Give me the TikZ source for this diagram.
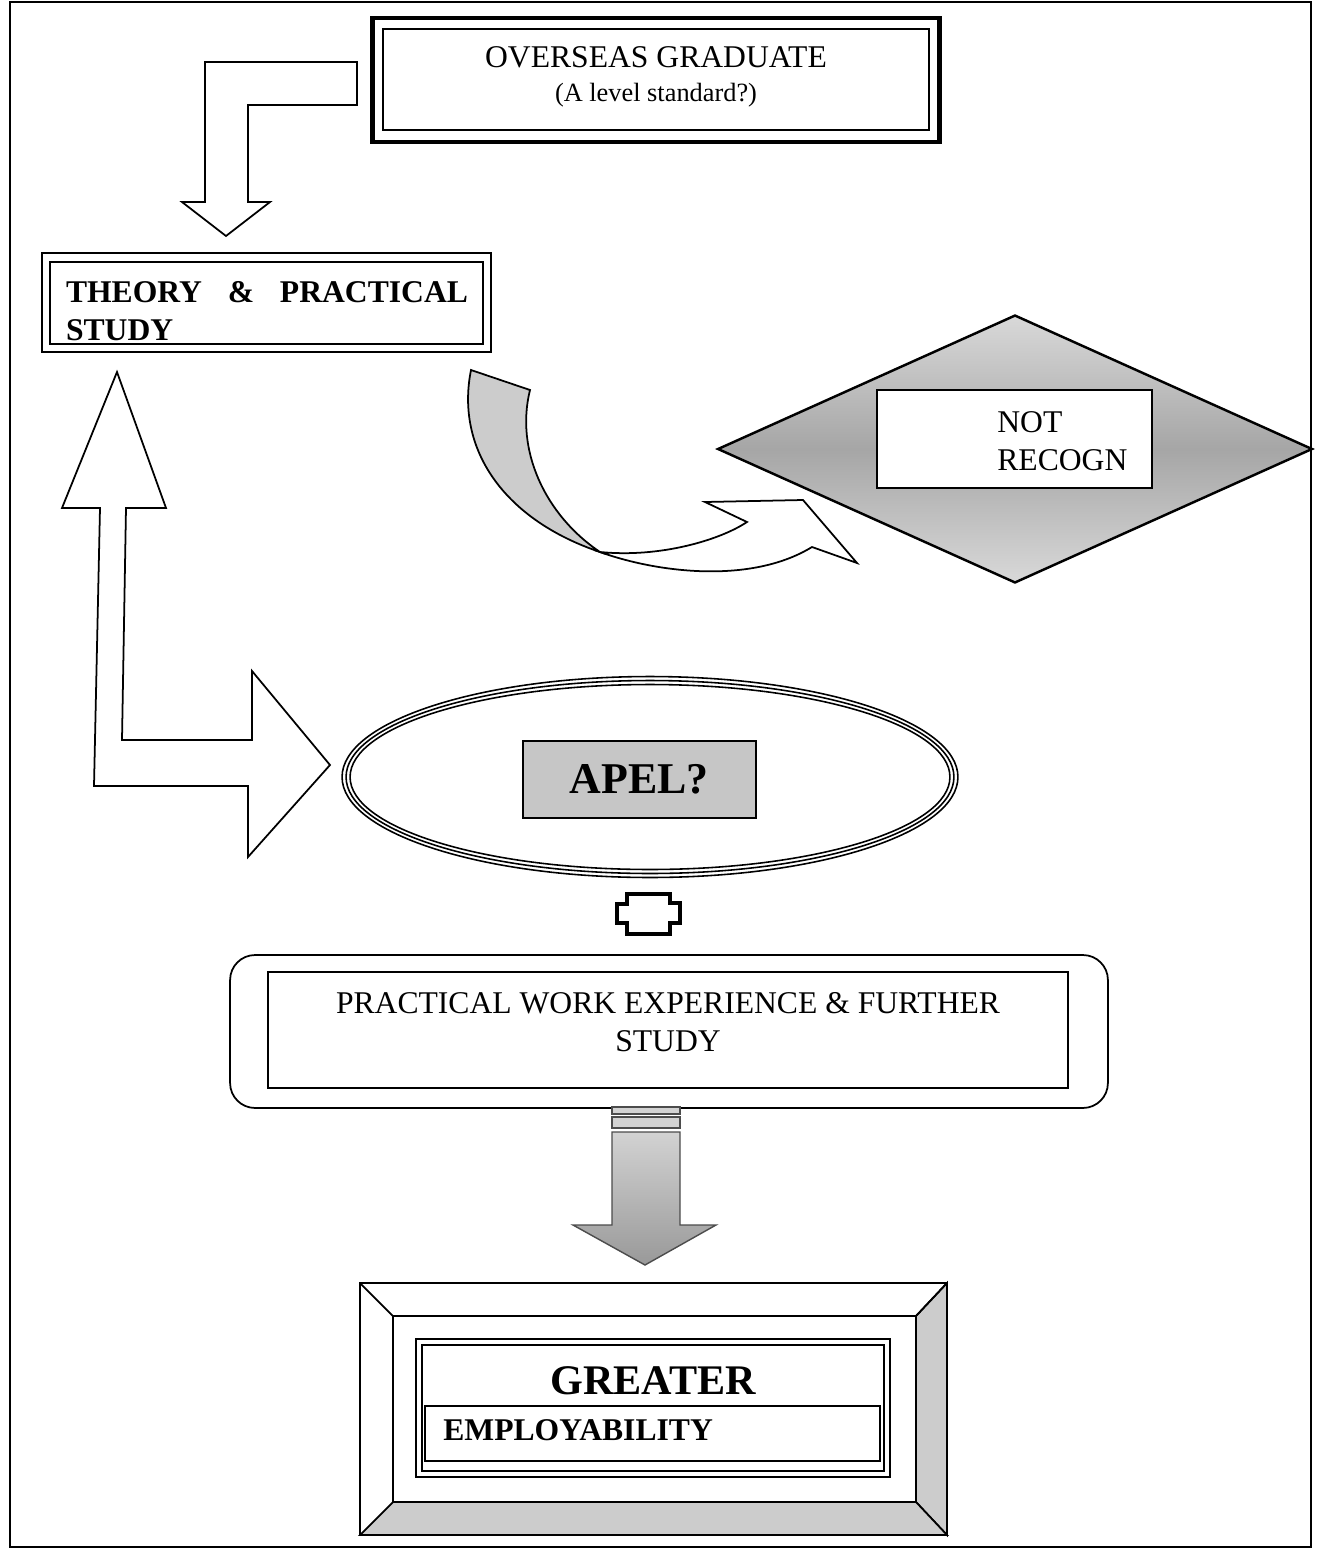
\documentclass[tikz,border=0pt]{standalone}
\usepackage{fontspec}
\setmainfont{Liberation Serif}
\usepackage{xcolor}
\usetikzlibrary{shapes.geometric}

\begin{document}
\begin{tikzpicture}[x=0.02cm,y=-0.02cm]
        \tikzstyle{every node}+=[inner sep=0pt]
        \tikzstyle{box}=[draw, rectangle, line width=1pt]
        \tikzstyle{hollow}=[draw, fill=white, line width=1pt, line join=miter]
        \tikzstyle{txt}=[font=\fontsize{18}{21.5}\selectfont]
        \tikzstyle{btxt}=[font=\fontsize{18}{21.5}\selectfont\bfseries]
        \useasboundingbox (0,0) rectangle (1323,1549);
        \draw [black, line width=1.4pt] (10,2) rectangle (1311,1547);
        % top box
        \node [box, line width=2.8pt, minimum width=11.36cm, minimum height=2.48cm] (grad) at (656,80) {};
        \draw [black, line width=1pt] (383,29) rectangle (929,130);
        \node [txt] (gradtxt) at (656,57) {OVERSEAS GRADUATE};
        \node [font=\fontsize{15}{18}\selectfont] (gradsub) at (656,95) {(A level standard?)};
        \draw [hollow] (205,62) -- (357,62) -- (357,105) -- (248,105) -- (248,202) -- (270,202) -- (226,236) -- (182,202) -- (205,202) -- cycle;
        \node [box, minimum width=8.98cm, minimum height=1.98cm] (theory) at (266.5,302.5) {};
        \draw [black, line width=1pt] (50,262) rectangle (483,344);
        \node [btxt, text width=8.04cm, align=left] (theorytxt) at (267,311) {\makebox[8.04cm][l]{THEORY\hfill\&\hfill PRACTICAL}\\STUDY};
        \draw [hollow] (117,372) -- (166,508) -- (126,508) -- (122,740) -- (252,740) -- (252,671) -- (330,765) -- (248,857) -- (248,786) -- (94,786) -- (100,508) -- (62,508) -- cycle;
        % curved arrow
        \draw [black, line width=1pt, fill=gray!40] (471,370) .. controls (455,450) and (505,520) .. (600,552) .. controls (545,515) and (515,450) .. (530,390) -- cycle;
        \draw [hollow] (600,552) .. controls (655,572) and (750,585) .. (812,547) -- (857,563) -- (803,500) -- (705,502) -- (747,522) .. controls (720,540) and (660,558) .. (600,552) -- cycle;
        \node [diamond, draw, line width=1.4pt, minimum width=11.9cm, minimum height=5.36cm, top color=gray!30, bottom color=gray!30, middle color=gray!70] (notrec) at (1015,449) {};
        \node [box, fill=white, minimum width=5.5cm, minimum height=1.96cm] (recbox) at (1014.5,439) {};
        \node [txt, align=left, anchor=west] (rectxt) at (997,441) {NOT\\RECOGN};
        % apel
        \node [ellipse, draw, line width=0.9pt, minimum width=12.32cm, minimum height=4.02cm] (apel) at (650,777) {};
        \node [ellipse, draw, line width=0.9pt, minimum width=12.16cm, minimum height=3.86cm] (apelmid) at (apel) {};
        \node [ellipse, draw, line width=0.9pt, minimum width=12cm, minimum height=3.7cm] (apelin) at (apel) {};
        \node [box, line width=0.8pt, fill=gray!45, minimum width=4.66cm, minimum height=1.54cm] (apelbox) at (639.5,779.5) {};
        \node [font=\fontsize{25}{30}\selectfont\bfseries] (apeltxt) at (639,779) {APEL?};
        \draw [black, line width=2.2pt] (627,894) -- (670,894) -- (670,903) -- (680,903) -- (680,923) -- (670,923) -- (670,934) -- (627,934) -- (627,923) -- (617,923) -- (617,904) -- (627,904) -- cycle;
        % work box
        \node [box, rounded corners=0.5cm, minimum width=17.56cm, minimum height=3.06cm] (work) at (669,1031.5) {};
        \draw [black, line width=1pt] (268,972) rectangle (1068,1088);
        \node [txt, align=center] (worktxt) at (668,1022) {PRACTICAL WORK EXPERIENCE \& FURTHER\\STUDY};
        \draw [gray!60!black, line width=0.6pt, fill=gray!35] (612,1107) rectangle (680,1114);
        \draw [gray!60!black, line width=0.6pt, fill=gray!35] (612,1117) rectangle (680,1128);
        \draw [gray!60!black, line width=0.8pt, top color=gray!35, bottom color=gray!80] (612,1132) -- (680,1132) -- (680,1225) -- (716,1225) -- (645,1265) -- (573,1225) -- (612,1225) -- cycle;
        % bottom box
        \node [box, minimum width=11.74cm, minimum height=5.04cm] (employ) at (653.5,1409) {};
        \draw [black, line width=1pt, fill=gray!40] (947,1283) -- (947,1535) -- (916,1502) -- (916,1316) -- cycle;
        \draw [black, line width=1pt, fill=gray!40] (360,1535) -- (947,1535) -- (916,1502) -- (393,1502) -- cycle;
        \draw [black, line width=1pt] (393,1316) rectangle (916,1502);
        \draw [black, line width=1pt] (360,1283) -- (393,1316);
        \draw [black, line width=1pt] (947,1283) -- (916,1316);
        \draw [black, line width=1pt] (416,1339) rectangle (890,1477);
        \draw [black, line width=0.8pt] (422,1345) rectangle (884,1471);
        \draw [black, line width=1pt] (425,1406) rectangle (880,1461);
        \node [font=\fontsize{24}{28}\selectfont\bfseries] (greater) at (653,1381) {GREATER};
        \node [btxt, anchor=west] (employtxt) at (443,1430) {EMPLOYABILITY};
\end{tikzpicture}
\end{document}
